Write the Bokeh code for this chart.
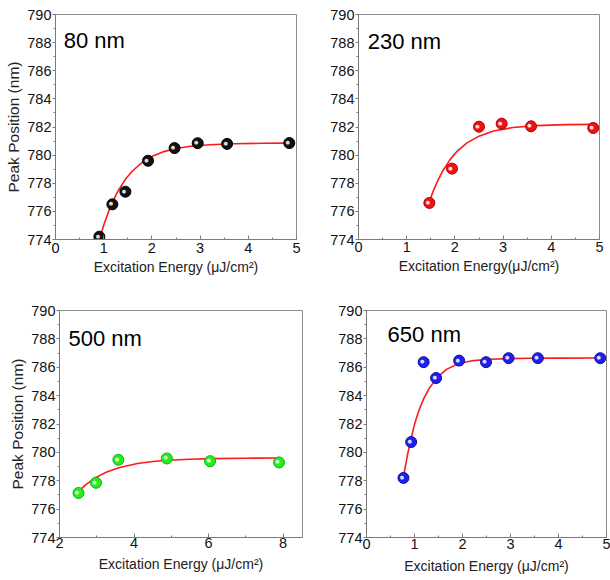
from bokeh.plotting import figure
from bokeh.layouts import column, row
from bokeh.models import FixedTicker, Range1d, Label
from bokeh.core.properties import value
from bokeh.embed import file_html
from bokeh.resources import INLINE

# ---------------- data ----------------
titles = ["80 nm", "230 nm", "500 nm", "650 nm"]

x80 = [0.91, 1.18, 1.45, 1.92, 2.47, 2.95, 3.56, 4.85]
y80 = [774.2, 776.5, 777.4, 779.6, 780.5, 780.85, 780.8, 780.86]
fx80 = [0.92, 1.0, 1.1, 1.2, 1.3, 1.45, 1.6, 1.8, 2.0, 2.25, 2.5, 2.8, 3.2, 3.7, 4.3, 4.86]
fy80 = [774.1, 775.01, 775.98, 776.79, 777.47, 778.28, 778.89, 779.49, 779.9, 780.25,
        780.47, 780.63, 780.74, 780.81, 780.84, 780.85]

x230 = [1.47, 1.94, 2.5, 2.97, 3.58, 4.87]
y230 = [776.6, 779.04, 782.02, 782.24, 782.05, 781.93]
fx230 = [1.47, 1.55, 1.65, 1.75, 1.9, 2.05, 2.25, 2.5, 2.8, 3.2, 3.7, 4.3, 4.87]
fy230 = [776.7, 777.44, 778.23, 778.89, 779.68, 780.29, 780.87, 781.35, 781.71,
         781.96, 782.1, 782.17, 782.19]

x500 = [2.51, 2.98, 3.58, 4.88, 6.04, 7.89]
y500 = [777.14, 777.86, 779.48, 779.57, 779.38, 779.29]
fx500 = [2.51, 2.7, 2.96, 3.25, 3.59, 4.09, 4.5, 4.9, 5.5, 6.07, 7.0, 7.91]
fy500 = [777.25, 777.71, 778.2, 778.6, 778.92, 779.22, 779.36, 779.45, 779.52,
         779.56, 779.59, 779.6]

x650 = [0.77, 0.93, 1.19, 1.45, 1.93, 2.49, 2.96, 3.57, 4.87]
y650 = [778.2, 780.73, 786.36, 785.24, 786.47, 786.36, 786.64, 786.64, 786.64]
fx650 = [0.776, 0.8, 0.85, 0.928, 1.0, 1.053, 1.12, 1.19, 1.3, 1.454, 1.55, 1.677,
         1.918, 2.23, 2.576, 2.957, 3.41, 4.0, 4.87]
fy650 = [778.32, 778.82, 779.76, 780.95, 781.96, 782.56, 783.2, 783.77, 784.48, 785.19,
         785.51, 785.87, 786.27, 786.47, 786.56, 786.61, 786.63, 786.64, 786.65]

y_ticks = [774, 776, 778, 780, 782, 784, 786, 788, 790]
y_minor = [775, 777, 779, 781, 783, 785, 787, 789]
x_ticks_a = [0, 1, 2, 3, 4, 5]
x_minor_a = [0.5, 1.5, 2.5, 3.5, 4.5]
x_ticks_b = [2, 4, 6, 8]
x_minor_b = [3, 5, 7]

FONT = "Liberation Sans"


def make_panel(xs, ys, fxs, fys, title, title_xy, xr, xt, xm, fill, edge,
               w, h, borders, xlabel, ylabel, x_std):
    p = figure(width=w, height=h, output_backend="svg", toolbar_location=None,
               x_range=Range1d(*xr), y_range=Range1d(774, 790),
               min_border_left=borders[0], min_border_right=borders[1],
               min_border_top=borders[2], min_border_bottom=borders[3])
    p.background_fill_color = "white"
    p.border_fill_color = "white"
    p.outline_line_color = "#8c8c8c"
    p.outline_line_width = 1
    p.xgrid.visible = False
    p.ygrid.visible = False

    p.xaxis.ticker = FixedTicker(ticks=xt, minor_ticks=xm)
    p.yaxis.ticker = FixedTicker(ticks=y_ticks, minor_ticks=y_minor)
    for ax in (p.xaxis, p.yaxis):
        ax.axis_line_color = "#7a7a7a"
        ax.major_tick_line_color = "#7a7a7a"
        ax.minor_tick_line_color = "#7a7a7a"
        ax.major_label_text_font = FONT
        ax.major_label_text_font_size = "14.5px"
        ax.major_label_text_color = "#111111"
        ax.axis_label_text_font = FONT
        ax.axis_label_text_font_style = "normal"
        ax.axis_label_text_color = "#222222"
    p.xaxis.axis_label_text_font_size = "14px"
    p.yaxis.axis_label_text_font_size = "15.5px"
    p.xaxis.major_tick_in = 4
    p.xaxis.major_tick_out = 0
    p.xaxis.minor_tick_in = 2
    p.xaxis.minor_tick_out = 0
    p.yaxis.major_tick_in = 0
    p.yaxis.major_tick_out = 3
    p.yaxis.minor_tick_in = 0
    p.yaxis.minor_tick_out = 2
    p.xaxis.major_label_standoff = x_std[0]
    p.yaxis.major_label_standoff = 1
    p.xaxis.axis_label = xlabel
    p.xaxis.axis_label_standoff = x_std[1]
    if ylabel:
        p.yaxis.axis_label = ylabel
        p.yaxis.axis_label_standoff = 2

    p.line(fxs, fys, line_color="#ff1a1a", line_width=1.6)
    p.scatter(xs, ys, size=11, fill_color=fill, line_color=edge, line_width=1)
    p.text(xs, ys, text=["●"] * len(xs), x_offset=-1.5, y_offset=-1,
           text_font_size="5px", text_align="center", text_baseline="middle",
           text_color="white", text_alpha=0.85, text_font=value("DejaVu Sans"))

    p.add_layout(Label(x=title_xy[0], y=title_xy[1], text=title,
                       text_font=FONT, text_font_size="22px",
                       text_color="#000000", text_baseline="alphabetic"))
    return p


p1 = make_panel(x80, y80, fx80, fy80, titles[0], (0.17, 788.15), (0, 5),
                x_ticks_a, x_minor_a, "#111111", "#000000",
                305, 290, (55, 9, 12, 51),
                "Excitation Energy (μJ/cm²)", "Peak Position (nm)", (3, 3))
p2 = make_panel(x230, y230, fx230, fy230, titles[1], (0.19, 788.1), (0, 5),
                x_ticks_a, x_minor_a, "#ee1111", "#b00000",
                305, 290, (53, 11, 14, 50),
                "Excitation Energy(μJ/cm²)", None, (2, 3))
p3 = make_panel(x500, y500, fx500, fy500, titles[2], (2.24, 788.0), (2, 8.52),
                x_ticks_b, x_minor_b, "#22ee22", "#11b011",
                305, 290, (59, 3, 19, 43),
                "Excitation Energy (μJ/cm²)", "Peak Position (nm)", (0, 5))
p4 = make_panel(x650, y650, fx650, fy650, titles[3], (0.44, 788.3), (0, 5),
                x_ticks_a, x_minor_a, "#2020ee", "#1010a0",
                305, 290, (61, 4, 20, 42),
                "Excitation Energy (μJ/cm²)", None, (1, 6))

layout = column(row(p1, p2), row(p3, p4))

open("out.html", "w").write(file_html(layout, INLINE))
